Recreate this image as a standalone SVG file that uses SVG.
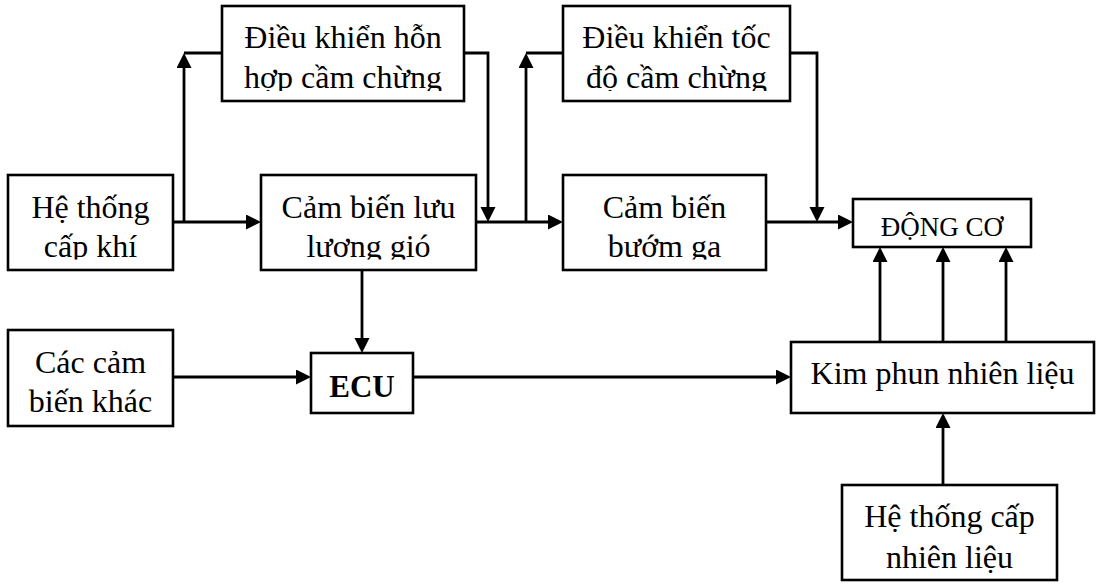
<svg xmlns="http://www.w3.org/2000/svg" width="1096" height="585" viewBox="0 0 1096 585">
<style>
.box{fill:#fff;stroke:#000;stroke-width:2.6}
.t{font-family:"Liberation Serif","Times New Roman",serif;font-size:32px;fill:#000;text-anchor:middle}
.s{font-size:27px}
.b{font-weight:bold;font-size:31px}
.c{fill:none;stroke:#000;stroke-width:2.8}
</style>
<defs>
<marker id="ah" markerUnits="userSpaceOnUse" markerWidth="16" markerHeight="16" refX="10" refY="7.5" orient="auto">
<path d="M0,0 L15,7.5 L0,15 z" fill="#000"/>
</marker>
<clipPath id="clipTop"><rect x="0" y="0" width="1096" height="91"/></clipPath>
<clipPath id="clipMid"><rect x="0" y="0" width="1096" height="259.5"/></clipPath>
</defs>
<g id="connectors">
<line class="c" x1="173" y1="222" x2="256" y2="222" marker-end="url(#ah)"/>
<line class="c" x1="184" y1="222" x2="184" y2="58" marker-end="url(#ah)"/>
<polyline class="c" points="184,53 222,53"/>
<polyline class="c" points="464,53 488,53 488,217" marker-end="url(#ah)"/>
<line class="c" x1="476" y1="222" x2="558" y2="222" marker-end="url(#ah)"/>
<line class="c" x1="526" y1="222" x2="526" y2="58" marker-end="url(#ah)"/>
<polyline class="c" points="526,53 563,53"/>
<polyline class="c" points="790,53 817,53 817,217" marker-end="url(#ah)"/>
<line class="c" x1="766" y1="222" x2="848" y2="222" marker-end="url(#ah)"/>
<line class="c" x1="362" y1="270" x2="362" y2="348" marker-end="url(#ah)"/>
<line class="c" x1="173" y1="377" x2="306" y2="377" marker-end="url(#ah)"/>
<line class="c" x1="413" y1="377" x2="786" y2="377" marker-end="url(#ah)"/>
<line class="c" x1="880" y1="342" x2="880" y2="252" marker-end="url(#ah)"/>
<line class="c" x1="943" y1="342" x2="943" y2="252" marker-end="url(#ah)"/>
<line class="c" x1="1006" y1="342" x2="1006" y2="252" marker-end="url(#ah)"/>
<line class="c" x1="943" y1="485" x2="943" y2="418" marker-end="url(#ah)"/>
</g>
<g id="he-thong-cap-khi">
<rect class="box" x="8" y="175" width="165" height="95"/>
<g clip-path="url(#clipMid)"><text class="t" x="90.5" y="218">Hệ thống</text><text class="t" x="90.5" y="257">cấp khí</text></g>
</g>
<g id="dieu-khien-hon-hop">
<rect class="box" x="222" y="6" width="242" height="95"/>
<g clip-path="url(#clipTop)"><text class="t" x="343" y="48">Điều khiển hỗn</text><text class="t" x="343" y="88">hợp cầm chừng</text></g>
</g>
<g id="cam-bien-luu-luong">
<rect class="box" x="261" y="175" width="215" height="95"/>
<g clip-path="url(#clipMid)"><text class="t" x="368.5" y="218">Cảm biến lưu</text><text class="t" x="368.5" y="257">lương gió</text></g>
</g>
<g id="dieu-khien-toc-do">
<rect class="box" x="563" y="6" width="227" height="95"/>
<g clip-path="url(#clipTop)"><text class="t" x="676.5" y="48">Điều khiển tốc</text><text class="t" x="676.5" y="88">độ cầm chừng</text></g>
</g>
<g id="cam-bien-buom-ga">
<rect class="box" x="563" y="175" width="203" height="95"/>
<g clip-path="url(#clipMid)"><text class="t" x="664.5" y="218">Cảm biến</text><text class="t" x="664.5" y="257">bướm ga</text></g>
</g>
<g id="dong-co">
<rect class="box" x="853" y="199" width="178" height="48"/>
<text class="t s" x="942" y="236">ĐỘNG CƠ</text>
</g>
<g id="cac-cam-bien-khac">
<rect class="box" x="8" y="330" width="165" height="96"/>
<text class="t" x="90.5" y="373">Các cảm</text><text class="t" x="90.5" y="412">biến khác</text>
</g>
<g id="ecu">
<rect class="box" x="311" y="353" width="102" height="60"/>
<text class="t b" x="362" y="397">ECU</text>
</g>
<g id="kim-phun">
<rect class="box" x="791" y="342" width="303" height="71"/>
<text class="t" x="942.5" y="384">Kim phun nhiên liệu</text>
</g>
<g id="he-thong-cap-nhien-lieu">
<rect class="box" x="842" y="485" width="215" height="95"/>
<text class="t" x="949.5" y="527">Hệ thống cấp</text><text class="t" x="949.5" y="568">nhiên liệu</text>
</g>
</svg>
